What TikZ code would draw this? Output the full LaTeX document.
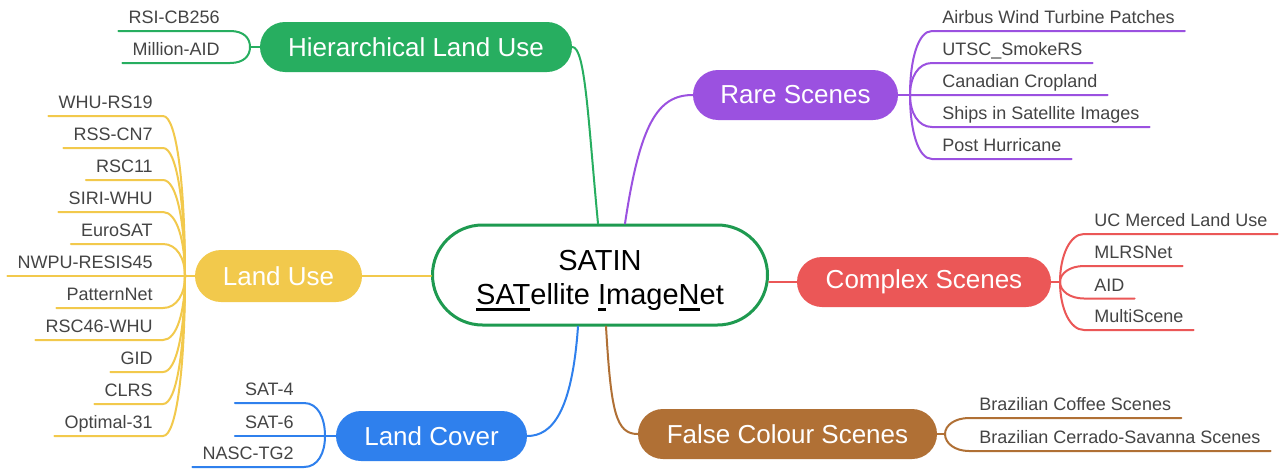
\documentclass[tikz,border=0pt]{standalone}
\usepackage{fontspec}
\setmainfont{Liberation Sans}
\usetikzlibrary{shapes.misc,calc}

\definecolor{cgreen}{HTML}{27AE60}
\definecolor{cdkgreen}{HTML}{1E9A50}
\definecolor{cpurple}{HTML}{9B51E0}
\definecolor{cred}{HTML}{EB5757}
\definecolor{cbrown}{HTML}{B07035}
\definecolor{cblue}{HTML}{2F80ED}
\definecolor{cyellow}{HTML}{F2C94C}
\definecolor{leafgray}{HTML}{444444}

% thick underline for the acronym letters
\newcommand{\uln}[1]{\setbox0\hbox{#1}\rlap{\smash{\rule[-4.9pt]{\wd0}{1.9pt}}}\box0}

% twig from a branch point to a leaf on the left / right, then along its base
\newcommand{\lefttwig}[3]{%
  \draw[link,#1] (#2) .. controls ($(#2)!0.55!(#2|-#3.south east)$) and ($(#3.south east)+(14,0)$) .. (#3.south east) -- (#3.south west);}
\newcommand{\righttwig}[3]{%
  \draw[link,#1] (#2) .. controls ($(#2)!0.55!(#2|-#3.south west)$) and ($(#3.south west)+(-14,0)$) .. (#3.south west) -- (#3.south east);}

\begin{document}
\begin{tikzpicture}[x=0.75pt,y=-0.75pt,
  topic/.style={rounded rectangle, inner sep=0pt, minimum height=37.5pt,
    text=white, font=\fontsize{19.5}{23}\selectfont},
  leaf/.style={text=leafgray, font=\fontsize{13.5}{16}\selectfont,
    inner xsep=7.5pt, inner ysep=5.1pt, text height=10pt, text depth=0pt},
  link/.style={line width=1.5pt, line cap=round}]

\fill[white] (0,0) rectangle (1280,471);
\useasboundingbox (0,0) rectangle (1280,471);

% central topic: outline and its two-line title
\node[draw=cdkgreen, line width=2.25pt, rounded rectangle, fill=white,
  minimum width=251.25pt, minimum height=75pt, inner sep=0pt] (satin) at (600,275) {};
\node[align=center, inner sep=0pt, font=\fontsize{21.75}{25.5}\selectfont]
  (satintitle) at ($(satin.center)+(0,5)$)
  {SATIN\\\uln{SAT}ellite \uln{I}mage\uln{N}et};

% main topics
\node[topic, fill=cgreen,  minimum width=234pt]    (hlu)  at (416,47)    {Hierarchical Land Use};
\node[topic, fill=cpurple, minimum width=153.75pt] (rare) at (795.5,95)  {Rare Scenes};
\node[topic, fill=cred,    minimum width=190.5pt]  (cplx) at (924,282)   {Complex Scenes};
\node[topic, fill=cbrown,  minimum width=224.25pt] (fcs)  at (787.5,434) {False Colour Scenes};
\node[topic, fill=cblue,   minimum width=143.25pt] (lcov) at (431.5,436) {Land Cover};
\node[topic, fill=cyellow, minimum width=125.25pt, minimum height=39pt] (luse) at (278.5,276) {Land Use};

% branch points
\coordinate (hb)  at (250,47);
\coordinate (rb)  at (910,95);
\coordinate (cb)  at (1060,282);
\coordinate (fb)  at (945,434);
\coordinate (lcb) at (325,436);
\coordinate (lub) at (185,276);

% leaves: Hierarchical Land Use
\node[leaf, anchor=south east] (rsicb) at (230,31) {RSI-CB256};
\node[leaf, anchor=south east] (maid)  at (230,63) {Million-AID};

% leaves: Rare Scenes
\node[leaf, anchor=south west] (airbus) at (932,31)  {Airbus Wind Turbine Patches};
\node[leaf, anchor=south west] (utsc)   at (932,63)  {UTSC\_SmokeRS};
\node[leaf, anchor=south west] (ccrop)  at (932,95)  {Canadian Cropland};
\node[leaf, anchor=south west] (ships)  at (932,127) {Ships in Satellite Images};
\node[leaf, anchor=south west] (posth)  at (932,159) {Post Hurricane};

% leaves: Complex Scenes
\node[leaf, anchor=south west] (ucm)   at (1084,234)   {UC Merced Land Use};
\node[leaf, anchor=south west] (mlrs)  at (1084,266)   {MLRSNet};
\node[leaf, anchor=south west] (aid)   at (1084,298.5) {AID};
\node[leaf, anchor=south west] (multi) at (1084,330)   {MultiScene};

% leaves: False Colour Scenes
\node[leaf, anchor=south west] (bcof) at (969,418) {Brazilian Coffee Scenes};
\node[leaf, anchor=south west] (bcer) at (969,451) {Brazilian Cerrado-Savanna Scenes};

% leaves: Land Cover
\node[leaf, anchor=south east] (sat4) at (304,403) {SAT-4};
\node[leaf, anchor=south east] (sat6) at (304,436) {SAT-6};
\node[leaf, anchor=south east] (nasc) at (304,467) {NASC-TG2};

% leaves: Land Use
\node[leaf, anchor=south east] (whu)   at (163,116) {WHU-RS19};
\node[leaf, anchor=south east] (rsscn) at (163,148) {RSS-CN7};
\node[leaf, anchor=south east] (rsc11) at (163,180) {RSC11};
\node[leaf, anchor=south east] (siri)  at (163,212) {SIRI-WHU};
\node[leaf, anchor=south east] (euro)  at (163,244) {EuroSAT};
\node[leaf, anchor=south east] (nwpu)  at (163,276) {NWPU-RESIS45};
\node[leaf, anchor=south east] (patt)  at (163,308) {PatternNet};
\node[leaf, anchor=south east] (rsc46) at (163,340) {RSC46-WHU};
\node[leaf, anchor=south east] (gid)   at (163,372) {GID};
\node[leaf, anchor=south east] (clrs)  at (163,404) {CLRS};
\node[leaf, anchor=south east] (opt)   at (163,436) {Optimal-31};

% centre to main topics
\draw[link, cgreen]  ($(satin.north)+(-2,0)$) .. controls +(-10,-105) and +(13,0) .. (hlu.east);
\draw[link, cpurple] ($(satin.north)+(25,0)$) .. controls +(15,-100) and +(-35,0) .. (rare.west);
\draw[link, cred]    (satin.east |- cplx.west) -- (cplx.west);
\draw[link, cbrown]  ($(satin.south)+(6,0)$) .. controls +(5,85) and +(-22,0) .. (fcs.west);
\draw[link, cblue]   ($(satin.south)+(-22,0)$) .. controls +(-6,85) and +(25,0) .. (lcov.east);
\draw[link, cyellow] (luse.east) -- (satin.west |- luse.east);

% stubs from topics to branch points
\draw[link, cgreen]  (hlu.west)  -- (hb);
\draw[link, cpurple] (rare.east) -- (rb);
\draw[link, cred]    (cplx.east) -- (cb);
\draw[link, cbrown]  (fcs.east)  -- (fb);
\draw[link, cblue]   (lcov.west) -- (lcb);
\draw[link, cyellow] (luse.west) -- (lub);

% twigs
\lefttwig{cgreen}{hb}{rsicb}
\lefttwig{cgreen}{hb}{maid}

\righttwig{cpurple}{rb}{airbus}
\righttwig{cpurple}{rb}{utsc}
\righttwig{cpurple}{rb}{ccrop}
\righttwig{cpurple}{rb}{ships}
\righttwig{cpurple}{rb}{posth}

\righttwig{cred}{cb}{ucm}
\righttwig{cred}{cb}{mlrs}
\righttwig{cred}{cb}{aid}
\righttwig{cred}{cb}{multi}

\righttwig{cbrown}{fb}{bcof}
\righttwig{cbrown}{fb}{bcer}

\lefttwig{cblue}{lcb}{sat4}
\lefttwig{cblue}{lcb}{sat6}
\lefttwig{cblue}{lcb}{nasc}

\lefttwig{cyellow}{lub}{whu}
\lefttwig{cyellow}{lub}{rsscn}
\lefttwig{cyellow}{lub}{rsc11}
\lefttwig{cyellow}{lub}{siri}
\lefttwig{cyellow}{lub}{euro}
\lefttwig{cyellow}{lub}{nwpu}
\lefttwig{cyellow}{lub}{patt}
\lefttwig{cyellow}{lub}{rsc46}
\lefttwig{cyellow}{lub}{gid}
\lefttwig{cyellow}{lub}{clrs}
\lefttwig{cyellow}{lub}{opt}

\end{tikzpicture}
\end{document}
